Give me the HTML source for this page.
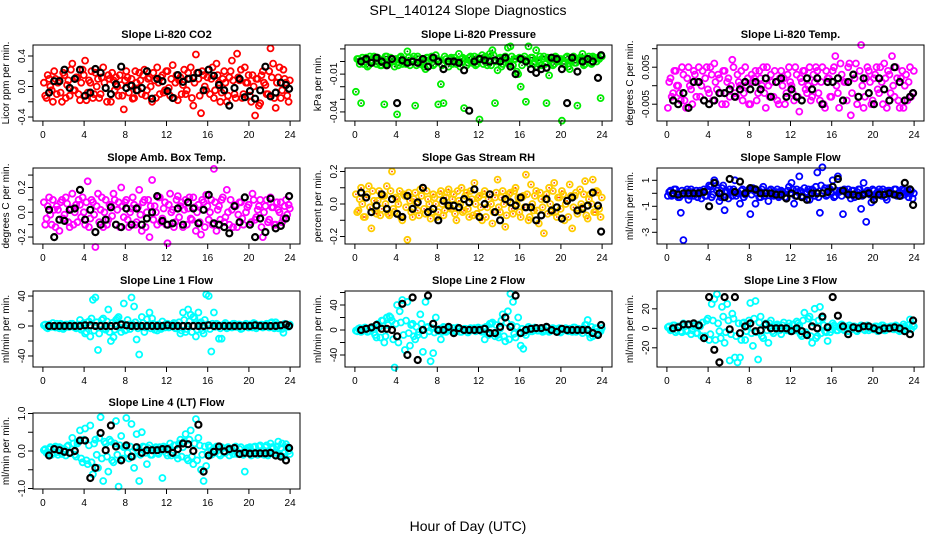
<!DOCTYPE html>
<html><head><meta charset="utf-8">
<style>
html,body{margin:0;padding:0;background:#fff;}
svg{display:block;font-family:"Liberation Sans",sans-serif;}
</style></head>
<body>
<svg id="chart" width="936" height="540" viewBox="0 0 936 540" xmlns="http://www.w3.org/2000/svg">
<rect width="936" height="540" fill="#fff"/>
<text x="468" y="15" text-anchor="middle" font-size="14">SPL_140124  Slope Diagnostics</text>
<text x="468" y="531" text-anchor="middle" font-size="14">Hour of Day (UTC)</text>
</svg>
<script>
const hours=[0.1,0.35,0.6,0.85,1.1,1.35,1.6,1.85,2.1,2.35,2.6,2.85,3.1,3.35,3.6,3.85,4.1,4.35,4.6,4.85,5.1,5.35,5.6,5.85,6.1,6.35,6.6,6.85,7.1,7.35,7.6,7.85,8.1,8.35,8.6,8.85,9.1,9.35,9.6,9.85,10.1,10.35,10.6,10.85,11.1,11.35,11.6,11.85,12.1,12.35,12.6,12.85,13.1,13.35,13.6,13.85,14.1,14.35,14.6,14.85,15.1,15.35,15.6,15.85,16.1,16.35,16.6,16.85,17.1,17.35,17.6,17.85,18.1,18.35,18.6,18.85,19.1,19.35,19.6,19.85,20.1,20.35,20.6,20.85,21.1,21.35,21.6,21.85,22.1,22.35,22.6,22.85,23.1,23.35,23.6,23.85];
const hours2=[0.22,0.47,0.72,0.97,1.22,1.47,1.72,1.97,2.22,2.47,2.72,2.97,3.22,3.47,3.72,3.97,4.22,4.47,4.72,4.97,5.22,5.47,5.72,5.97,6.22,6.47,6.72,6.97,7.22,7.47,7.72,7.97,8.22,8.47,8.72,8.97,9.22,9.47,9.72,9.97,10.22,10.47,10.72,10.97,11.22,11.47,11.72,11.97,12.22,12.47,12.72,12.97,13.22,13.47,13.72,13.97,14.22,14.47,14.72,14.97,15.22,15.47,15.72,15.97,16.22,16.47,16.72,16.97,17.22,17.47,17.72,17.97,18.22,18.47,18.72,18.97,19.22,19.47,19.72,19.97,20.22,20.47,20.72,20.97,21.22,21.47,21.72,21.97,22.22,22.47,22.72,22.97,23.22,23.47,23.72,23.97];
const blackHours=[0.6,1.1,1.6,2.1,2.6,3.1,3.6,4.1,4.6,5.1,5.6,6.1,6.6,7.1,7.6,8.1,8.6,9.1,9.6,10.1,10.6,11.1,11.6,12.1,12.6,13.1,13.6,14.1,14.6,15.1,15.6,16.1,16.6,17.1,17.6,18.1,18.6,19.1,19.6,20.1,20.6,21.1,21.6,22.1,22.6,23.1,23.6,23.9];
const xTicks=[0,4,8,12,16,20,24];

const co2Values=[0.05,-0.15,0.1,-0.05,0.2,-0.1,0.08,-0.2,0.15,0.02,-0.12,0.3,-0.05,0.12,-0.18,0.22,0.34,-0.08,0.05,-0.15,0.18,0.1,-0.1,0.25,-0.02,0.15,-0.2,0.08,0.12,-0.12,0.02,-0.3,0.2,-0.08,0.1,-0.15,0.05,0.18,-0.1,0.22,-0.05,0.12,-0.2,0.08,0.25,-0.1,0.15,-0.05,0.2,-0.12,0.28,0.05,-0.18,0.12,0.02,-0.1,0.18,0.25,-0.25,0.42,0.1,-0.35,0.15,-0.05,0.22,0.1,-0.15,0.3,0.05,-0.08,0.2,-0.2,0.12,0.34,-0.1,0.43,0.08,-0.15,0.25,0.05,-0.12,0.15,-0.38,0.1,-0.22,0.2,0.02,-0.1,0.5,0.3,-0.28,0.12,-0.15,0.22,0.05,-0.2];
const co2Values2=[-0.12,0.15,0.0,-0.2,0.1,0.05,-0.08,0.18,-0.15,0.08,0.22,-0.05,0.12,-0.1,0.05,0.15,-0.18,0.08,0.2,-0.1,0.0,-0.15,0.12,0.05,-0.2,0.1,0.18,-0.05,0.0,0.15,-0.12,0.08,0.12,0.02,-0.16,0.2,-0.05,0.08,0.15,-0.12,0.1,0.0,0.18,-0.15,0.05,0.12,-0.08,0.2,-0.02,0.1,-0.15,0.15,0.08,-0.1,0.22,-0.05,0.1,-0.15,0.05,0.18,-0.12,0.2,0.0,0.12,-0.1,0.25,-0.05,0.15,-0.2,0.1,0.05,-0.12,0.2,0.08,-0.15,0.12,0.22,-0.1,0.05,0.15,-0.2,0.0,0.1,-0.25,0.15,0.05,-0.1,0.2,0.12,-0.15,0.05,0.25,-0.05,0.1,-0.12,0.08];
const co2Black=[-0.08,0.07,0.07,0.22,-0.02,0.1,0.22,-0.12,-0.08,0.23,0.18,-0.02,-0.1,0.03,0.26,-0.02,0.01,-0.05,-0.02,0.2,-0.16,0.1,0.07,-0.06,-0.15,0.15,0.06,0.1,0.11,0.18,-0.05,0.22,0.14,0.02,-0.05,-0.25,-0.02,0.1,-0.14,-0.06,-0.16,-0.05,0.26,-0.13,-0.08,0.05,0.02,-0.03];
const pressValues=[-0.024,0.002,-0.033,-0.002,0.003,-0.003,0.001,0.004,-0.002,0.002,-0.003,-0.034,0.004,-0.001,0.002,-0.004,-0.042,0.003,-0.002,0.001,0.008,-0.003,0.002,-0.035,0.004,-0.002,0.001,-0.006,0.003,0.002,-0.003,0.005,-0.034,-0.018,-0.033,0.002,-0.004,0.003,0.001,-0.002,0.006,0.002,-0.037,-0.003,0.003,-0.001,0.004,-0.002,-0.046,0.005,0.002,-0.003,0.006,0.009,-0.033,-0.007,0.003,-0.002,0.004,0.011,0.012,-0.003,0.002,-0.01,-0.02,0.002,-0.032,0.012,0.003,-0.002,0.009,0.001,-0.003,0.004,-0.033,-0.011,0.002,-0.002,0.003,0.001,-0.047,-0.002,0.004,-0.006,0.002,-0.001,-0.035,0.003,0.006,-0.002,0.002,-0.001,0.004,0.002,0.003,-0.029];
const pressValues2=[0.002,-0.002,0.003,0.0,-0.004,0.004,-0.001,0.002,0.003,-0.003,0.001,0.004,-0.002,0.003,0.0,0.002,-0.003,0.004,0.001,-0.002,0.003,0.0,0.004,-0.003,0.002,0.001,-0.004,0.003,0.0,0.004,-0.002,0.002,0.001,-0.003,0.004,0.0,0.002,-0.002,0.003,0.001,-0.004,0.003,0.002,-0.001,0.004,0.0,-0.003,0.003,0.002,-0.002,0.004,0.001,-0.003,0.005,0.0,0.002,-0.004,0.003,0.001,-0.002,0.004,0.002,-0.008,0.003,-0.003,0.004,0.001,-0.002,0.003,0.0,-0.004,0.004,0.002,-0.002,0.003,0.001,-0.003,0.004,0.0,0.002,-0.002,0.003,-0.004,0.001,0.004,-0.001,0.002,0.003,-0.003,0.001,0.004,-0.002,0.003,0.0,0.002,0.004];
const pressBlack=[0.0,0.002,-0.001,0.003,0.0,-0.003,0.002,-0.033,0.001,-0.001,0.0,-0.001,0.002,-0.004,0.003,0.0,-0.006,0.0,0.0,-0.001,-0.007,-0.039,0.0,0.002,0.001,0.0,0.001,0.0,0.003,-0.004,-0.01,0.002,0.0,-0.006,-0.009,-0.006,-0.005,0.003,0.002,-0.006,-0.033,0.003,-0.008,0.0,0.002,0.0,-0.013,0.005];
const tempValues=[-0.006,0.002,-0.002,0.004,0.0,-0.004,0.003,-0.006,0.005,-0.001,0.004,-0.003,0.005,0.0,-0.004,0.005,-0.002,0.003,0.006,-0.001,0.002,-0.005,0.004,0.001,-0.003,0.007,-0.002,0.003,0.0,-0.004,0.005,0.002,-0.005,0.001,0.004,-0.002,0.002,0.005,-0.006,0.0,0.003,-0.003,0.001,-0.005,0.004,0.002,-0.002,0.005,0.0,-0.004,0.003,-0.007,0.001,0.004,-0.002,0.005,-0.003,0.001,0.004,-0.004,0.005,-0.006,0.002,-0.003,0.004,0.008,-0.002,0.006,-0.004,0.001,0.005,-0.008,0.003,0.006,-0.003,0.011,-0.006,0.002,0.004,-0.005,0.002,0.005,-0.002,0.001,0.006,-0.006,0.003,0.008,-0.003,0.002,-0.006,0.004,0.0,-0.004,0.005,-0.002];
const tempValues2=[0.001,-0.003,0.004,0.0,-0.002,0.005,-0.004,0.002,0.0,-0.005,0.003,0.001,-0.003,0.004,0.002,-0.001,0.005,-0.004,0.001,0.003,-0.002,0.004,-0.005,0.002,0.0,0.005,-0.003,0.001,0.004,-0.002,0.0,-0.005,0.003,0.002,-0.004,0.004,0.0,-0.002,0.005,-0.003,0.001,0.004,-0.004,0.002,0.0,-0.005,0.003,0.001,-0.002,0.005,-0.003,0.002,0.004,-0.001,0.0,-0.004,0.003,0.005,-0.002,0.001,-0.005,0.004,0.002,-0.003,0.005,0.0,-0.006,0.003,0.001,-0.004,0.006,-0.002,0.002,-0.005,0.004,0.0,-0.003,0.005,0.001,-0.004,0.003,-0.001,0.005,-0.005,0.002,0.004,-0.002,0.0,0.005,-0.004,0.002,-0.006,0.003,0.001,-0.003,0.004];
const tempBlack=[-0.004,-0.005,-0.002,-0.006,0.001,0.001,-0.004,-0.005,-0.004,-0.002,-0.002,-0.001,-0.003,-0.001,0.001,-0.001,0.001,-0.001,0.002,-0.003,0.001,0.002,-0.003,-0.001,-0.003,-0.004,0.002,-0.001,0.002,-0.005,0.001,0.001,0.002,-0.004,0.001,0.003,-0.003,0.002,-0.002,-0.005,0.002,-0.001,-0.004,0.005,0.001,-0.004,-0.003,-0.002];
const ambValues=[0.08,-0.05,0.12,-0.1,0.02,0.05,-0.15,0.1,-0.02,0.07,-0.12,0.15,0.0,-0.08,0.06,0.12,-0.1,0.25,-0.05,0.08,-0.28,0.15,0.02,-0.12,0.1,-0.06,0.05,0.15,-0.1,0.08,0.2,-0.04,0.1,-0.12,0.03,0.06,-0.08,0.18,-0.15,0.1,0.0,-0.2,0.26,0.05,-0.1,0.12,-0.05,0.08,-0.25,0.15,0.02,-0.08,0.13,0.05,-0.12,0.1,0.03,-0.05,0.12,-0.15,0.06,-0.18,0.08,0.14,-0.06,0.1,0.35,-0.15,0.05,0.1,-0.08,0.18,-0.1,0.02,0.06,-0.12,0.08,-0.05,0.12,0.04,-0.1,0.15,-0.06,0.02,0.1,-0.2,0.05,-0.08,0.12,0.04,-0.1,0.02,0.08,-0.05,0.1,0.06];
const ambValues2=[-0.1,0.05,-0.02,0.1,-0.12,0.02,0.08,-0.05,0.12,-0.08,0.03,-0.1,0.06,0.1,-0.04,0.0,0.08,-0.12,0.1,-0.02,0.05,-0.08,0.12,0.0,-0.1,0.06,-0.03,0.1,0.02,-0.12,0.05,0.08,-0.06,0.0,0.12,-0.1,0.04,-0.02,0.08,-0.12,0.1,0.05,-0.06,0.0,0.12,-0.08,0.03,-0.1,0.06,0.0,-0.12,0.1,-0.04,0.08,0.02,-0.1,0.12,-0.06,0.04,0.0,-0.08,0.1,-0.12,0.05,0.0,-0.1,0.08,0.02,-0.06,0.12,-0.04,0.0,0.1,-0.12,0.05,-0.02,0.08,-0.1,0.0,0.06,-0.08,0.1,-0.04,0.05,-0.12,0.0,0.1,-0.06,0.04,-0.1,0.08,0.0,-0.08,0.05,-0.02,0.03];
const ambBlack=[0.02,-0.2,-0.06,-0.07,0.02,0.03,0.18,-0.06,0.02,-0.16,-0.1,-0.06,0.04,-0.1,-0.12,0.03,-0.1,0.03,-0.1,-0.05,0.0,0.13,-0.07,-0.1,-0.09,0.03,-0.1,0.08,0.03,-0.09,0.02,0.14,-0.09,-0.1,-0.12,-0.17,0.05,-0.08,0.12,-0.1,-0.2,-0.05,-0.16,0.11,-0.13,-0.11,-0.05,0.13];
const rhValues=[0.06,-0.04,0.1,-0.08,0.04,0.11,-0.15,0.02,-0.06,0.08,-0.03,0.05,0.11,-0.07,0.2,-0.05,0.03,0.08,-0.1,0.05,-0.22,0.02,-0.08,0.07,-0.04,0.09,0.1,-0.06,0.03,-0.09,0.06,0.0,-0.05,0.08,-0.07,0.04,0.09,-0.03,0.06,-0.1,0.02,0.1,-0.04,0.07,-0.08,0.03,0.13,-0.06,0.05,-0.1,0.08,-0.02,0.06,-0.12,0.04,0.15,-0.05,0.08,-0.14,0.02,0.07,-0.06,0.1,0.04,-0.08,0.05,0.18,-0.1,0.12,-0.04,0.08,-0.12,0.03,-0.18,0.06,0.1,-0.05,0.13,-0.08,0.04,0.08,-0.1,0.02,0.12,-0.15,0.05,-0.06,0.09,-0.02,0.14,-0.09,0.06,0.15,-0.05,0.07,-0.08];
const rhValues2=[-0.05,0.03,0.0,-0.08,0.06,-0.02,0.08,-0.04,0.02,-0.07,0.05,0.0,-0.06,0.08,-0.03,0.04,0.0,-0.08,0.06,-0.02,0.07,-0.05,0.03,0.0,-0.07,0.05,-0.03,0.08,0.0,-0.05,0.04,-0.08,0.06,0.0,-0.04,0.07,-0.02,0.03,-0.06,0.08,0.0,-0.05,0.05,-0.03,0.08,-0.07,0.0,0.04,-0.02,0.06,-0.08,0.03,0.0,-0.05,0.07,-0.02,0.04,0.0,-0.07,0.06,-0.03,0.08,0.0,-0.05,0.04,-0.02,0.06,-0.08,0.0,0.05,-0.04,0.07,-0.02,0.03,-0.06,0.0,0.08,-0.05,0.04,-0.03,0.06,0.0,-0.08,0.05,-0.02,0.07,-0.04,0.0,0.06,-0.07,0.03,0.0,-0.05,0.08,-0.03,0.04];
const rhBlack=[0.07,0.04,-0.05,-0.01,0.06,-0.03,0.03,-0.06,-0.08,0.05,-0.03,0.01,0.1,-0.05,-0.03,-0.1,0.02,-0.01,-0.01,-0.02,0.03,0.01,0.09,-0.08,0.0,0.06,-0.05,-0.1,0.03,0.01,-0.01,0.04,-0.02,-0.02,-0.1,-0.07,0.03,-0.04,-0.02,-0.09,0.02,0.04,-0.04,-0.03,-0.01,0.07,-0.01,-0.17];
const sampleValues=[-0.2,0.2,-0.1,0.3,-0.3,-1.5,-3.6,0.1,-0.5,0.3,-0.2,0.2,0.0,-0.4,0.3,-0.2,0.6,-0.3,1.0,0.2,-0.6,0.4,-1.3,0.1,0.3,-0.2,1.0,0.0,-0.8,0.3,-0.1,0.2,-1.6,0.4,-0.8,0.2,-0.3,0.5,0.1,-0.6,0.3,-0.2,0.1,-0.3,0.2,0.0,-0.4,0.5,0.8,-0.8,0.3,1.3,-0.2,0.4,0.1,-0.5,0.3,-0.2,1.6,-1.5,2.0,0.4,-0.1,0.3,1.0,-0.2,1.3,0.2,-1.6,0.1,0.3,-0.4,0.2,-0.1,0.3,-1.2,0.8,-2.2,0.1,-0.7,0.2,0.0,0.3,-0.2,0.1,-0.5,0.2,0.0,0.3,-0.2,0.1,0.3,-0.1,0.2,0.0,-0.4];
const sampleValues2=[0.1,-0.2,0.3,0.0,-0.3,0.2,-0.1,0.3,-0.2,0.1,0.0,-0.3,0.2,0.1,-0.2,0.3,0.5,-0.1,0.8,0.4,-0.3,0.6,0.2,-0.4,0.1,0.3,-0.2,0.0,0.2,-0.3,0.1,0.3,-0.1,0.2,0.0,-0.3,0.3,-0.2,0.1,0.2,-0.1,0.0,0.3,-0.2,0.1,-0.3,0.2,0.0,0.3,-0.2,0.1,0.2,-0.3,0.0,0.3,-0.1,0.2,0.5,-0.3,0.6,0.2,-0.2,0.4,0.0,-0.3,0.2,0.1,-0.2,0.3,0.0,-0.1,0.2,-0.3,0.1,0.3,-0.2,0.0,0.2,-0.1,0.3,-0.2,0.1,0.0,0.3,-0.3,0.2,0.1,-0.1,0.3,0.0,-0.2,0.2,0.1,-0.3,0.2,0.0];
const sampleBlack=[0.0,-0.1,0.0,0.0,0.0,0.0,0.1,-1.0,0.8,0.0,-0.3,1.1,0.1,0.9,0.0,0.4,0.3,0.0,0.0,0.0,-0.1,-0.1,-0.4,0.0,-0.2,-0.3,-0.5,0.0,0.0,0.0,0.1,0.5,1.1,0.2,-0.1,-0.1,-0.2,-0.1,0.0,-0.5,-0.1,-0.1,0.0,-0.1,-0.2,0.8,0.3,-0.9];
const line1Values=[1,-2,2,-1,0,3,-3,1,-2,2,-1,3,-2,1,8,-3,-10,5,-14,35,38,-32,2,10,-5,22,-20,-15,8,12,-8,30,-5,2,38,26,-18,-38,12,-8,9,18,10,-5,-6,-3,6,-2,3,-1,2,-3,1,-10,18,-8,22,15,12,-14,18,5,-10,42,40,-34,18,3,-17,-17,2,-3,1,-2,3,-1,2,-3,1,0,2,-2,3,-1,1,-2,2,-1,4,-2,5,-3,1,-9,2,-1];
const line1Values2=[2,-3,1,4,-2,0,3,-4,2,-1,3,0,-3,2,-5,4,-8,6,10,-6,5,-10,8,-3,6,-8,4,-5,10,-2,3,-6,8,-4,2,5,-3,0,4,-2,1,-3,3,-1,2,-4,0,3,-2,1,4,-3,5,-6,8,-4,6,-8,10,-5,3,-6,8,2,-4,3,-1,2,-3,1,4,-2,0,3,-1,2,-4,1,3,-2,0,4,-3,1,2,-1,3,-2,5,-3,2,0,-4,3,-1,2];
const line1Black=[0,0,0,0,0,0,0,1,1,0,0,0,0,0,2,1,0,0,0,0,0,0,0,1,0,0,0,0,0,0,0,1,0,0,0,0,0,0,0,0,1,0,0,0,0,1,2,0];
const line2Values=[-1,2,-3,1,3,-2,2,-4,-12,5,15,-20,20,22,15,-60,40,30,48,-32,45,-25,10,-15,-8,25,-35,45,5,-50,-37,20,-2,-15,5,-3,2,-1,3,-2,1,-3,2,0,-2,1,3,-1,2,-3,-15,-5,10,12,-10,-8,2,25,-18,30,58,45,-12,20,-25,-30,-8,5,-2,1,3,-1,2,-2,4,-3,1,2,-1,3,-2,1,-1,2,-3,4,-2,1,-5,8,16,-12,-10,3,-5,-2];
const line2Values2=[-2,3,-1,4,-3,2,5,-8,10,-12,15,-10,8,20,-15,10,-20,12,-8,15,-5,8,-10,5,-3,10,-8,4,-2,3,-4,1,2,-3,4,-1,0,3,-2,4,-3,1,2,-4,3,0,-2,4,-1,3,5,-8,10,-5,8,-12,15,-10,12,-15,8,-6,5,-3,2,-4,1,3,-2,4,-1,2,-3,0,4,-2,3,-1,2,-4,1,3,-2,0,4,-3,2,-1,3,8,-6,5,-3,2,-1,3];
const line2Black=[0,2,4,8,2,2,0,-10,42,-40,52,-48,0,55,10,0,0,5,-5,3,0,0,0,0,2,-5,-5,5,20,5,55,-5,0,2,3,3,5,0,-3,2,0,0,0,0,0,-5,-8,8];
const line3Values=[1,-2,3,-4,2,-3,5,-2,3,-6,2,-5,4,-8,-10,8,-12,25,30,35,-3,22,-15,25,-33,15,-30,-35,-30,5,-12,2,26,-18,28,-32,12,-10,5,-15,8,-5,3,2,-6,6,-2,5,-1,-2,7,3,-8,16,-6,12,-15,20,-8,22,10,-3,-13,-4,5,2,-2,3,-1,2,-3,1,2,-2,1,3,-1,2,-2,1,-1,2,-1,3,-2,1,0,2,-1,2,-3,1,2,-1,9,4];
const line3Values2=[2,-1,3,-2,1,-4,2,-3,4,-2,3,-5,2,6,-8,10,-6,8,-12,5,-10,12,-4,8,-6,10,-8,5,-12,6,-3,8,-5,10,-4,6,-8,3,-2,5,-3,1,4,-2,3,-1,2,-3,4,-2,5,-6,8,-4,10,-8,6,-10,8,-5,3,-4,2,-1,3,-2,1,4,-2,0,3,-1,2,-3,1,2,-2,3,0,-1,2,-3,1,3,-2,0,2,-1,3,-2,1,4,-2,3,-1,2];
const line3Black=[0,1,4,4,5,3,-10,32,-22,-35,32,-1,32,-5,2,5,-3,-2,4,0,0,0,0,-3,0,-3,-7,2,0,12,1,32,13,2,-6,1,0,2,2,0,-2,0,0,1,0,-3,-6,8];
const line4Values=[0.02,-0.05,0.05,-0.1,0.08,-0.03,0.1,-0.08,0.05,0.12,-0.06,0.35,-0.1,0.2,0.55,-0.3,0.6,-0.35,0.68,-0.62,0.3,-0.45,0.9,-0.8,0.2,-0.55,0.25,-0.3,0.8,-0.95,0.4,0.1,0.88,-0.2,0.72,-0.45,0.45,-0.8,0.5,0.1,-0.35,0.15,-0.1,0.05,-0.05,0.1,-0.72,0.08,-0.12,0.2,-0.05,0.15,-0.2,0.3,0.1,0.45,-0.25,0.55,-0.35,0.85,0.35,-0.5,-0.8,-0.4,0.15,-0.1,0.05,0.12,-0.08,0.1,-0.05,0.08,-0.12,0.05,0.1,-0.08,0.05,-0.06,-0.55,0.08,0.1,-0.05,0.12,-0.1,0.15,-0.08,0.1,-0.12,0.2,0.1,-0.05,0.25,0.08,-0.15,0.18,0.0];
const line4Values2=[0.05,-0.08,0.1,-0.05,0.12,-0.1,0.08,0.0,-0.12,0.15,-0.05,0.2,-0.15,0.25,-0.2,0.3,-0.25,0.15,-0.3,0.2,-0.1,0.35,-0.2,0.25,-0.15,0.3,-0.25,0.2,-0.1,0.15,-0.2,0.1,-0.05,0.12,-0.15,0.08,0.0,-0.1,0.12,-0.05,0.08,-0.1,0.05,0.1,-0.08,0.05,0.12,-0.05,0.08,-0.12,0.15,-0.1,0.2,-0.15,0.25,-0.2,0.3,-0.15,0.2,-0.25,0.15,-0.1,0.12,-0.05,0.1,-0.08,0.05,0.1,-0.12,0.08,-0.05,0.1,0.0,-0.08,0.12,-0.05,0.1,-0.1,0.05,0.08,-0.12,0.1,-0.05,0.12,0.0,-0.1,0.15,-0.08,0.1,-0.05,0.12,-0.1,0.2,-0.05,0.1,-0.08];
const line4Black=[-0.12,0.05,0.02,-0.02,-0.05,0.0,0.28,0.28,-0.72,-0.45,0.48,0.02,0.68,0.12,-0.25,0.15,-0.15,0.1,-0.05,0.02,0.02,0.02,0.05,0.05,-0.05,0.05,0.2,0.18,0.0,0.7,-0.55,-0.12,-0.02,0.12,-0.01,0.05,0.08,-0.08,-0.05,-0.07,-0.06,-0.06,-0.06,-0.05,-0.12,-0.15,-0.25,0.08];

const co2Ticks=[-0.4,-0.2,0,0.2,0.4], co2TickLabels=["-0.4","","0.0","","0.4"];
const pressTicks=[0.01,0,-0.01,-0.02,-0.03,-0.04], pressTickLabels=["","","-0.01","","","-0.04"];
const tempTicks=[0.01,0.005,0,-0.005], tempTickLabels=["","0.005","","-0.005"];
const ambTicks=[0.3,0.2,0.1,0,-0.1,-0.2], ambTickLabels=["","0.2","","0.0","","-0.2"];
const rhTicks=[0.2,0.1,0,-0.1,-0.2], rhTickLabels=["0.2","","0.0","","-0.2"];
const sampleTicks=[1,0,-1,-2,-3], sampleTickLabels=["1","","-1","","-3"];
const line1Ticks=[40,20,0,-20,-40], line1TickLabels=["40","","0","","-40"];
const line2Ticks=[60,40,20,0,-20,-40], line2TickLabels=["","40","","0","","-40"];
const line3Ticks=[20,0,-20], line3TickLabels=["20","0","-20"];
const line4Ticks=[1,0.5,0,-0.5,-1], line4TickLabels=["1.0","","0.0","","-1.0"];

const NS="http://www.w3.org/2000/svg";
const svg=document.getElementById('chart');
function mk(tag,attrs,parent){const e=document.createElementNS(NS,tag);for(const k in attrs)e.setAttribute(k,attrs[k]);(parent||svg).appendChild(e);return e;}

const panels=[
 {name:'co2',title:'Slope Li-820 CO2',ylab:'Licor ppm per min.',col:0,row:0,ylim:[-0.452,0.544],ticks:co2Ticks,labels:co2TickLabels,vals:co2Values,vals2:co2Values2,blk:co2Black,color:'#ff0000'},
 {name:'pressure',title:'Slope Li-820 Pressure',ylab:'kPa per min.',col:1,row:0,ylim:[-0.0472,0.0131],ticks:pressTicks,labels:pressTickLabels,vals:pressValues,vals2:pressValues2,blk:pressBlack,color:'#00ee00',inner:'#006600'},
 {name:'li820-temp',title:'Slope Li-820 Temp.',ylab:'degrees C per min.',col:2,row:0,ylim:[-0.00954,0.011],ticks:tempTicks,labels:tempTickLabels,vals:tempValues,vals2:tempValues2,blk:tempBlack,color:'#ff00ff'},
 {name:'amb-box-temp',title:'Slope Amb. Box Temp.',ylab:'degrees C per min.',col:0,row:1,ylim:[-0.256,0.357],ticks:ambTicks,labels:ambTickLabels,vals:ambValues,vals2:ambValues2,blk:ambBlack,color:'#ff00ff'},
 {name:'gas-stream-rh',title:'Slope Gas Stream RH',ylab:'percent per min.',col:1,row:1,ylim:[-0.246,0.2215],ticks:rhTicks,labels:rhTickLabels,vals:rhValues,vals2:rhValues2,blk:rhBlack,color:'#ffcc00',inner:'#ff4400'},
 {name:'sample-flow',title:'Slope Sample Flow',ylab:'ml/min per min.',col:2,row:1,ylim:[-3.9,1.946],ticks:sampleTicks,labels:sampleTickLabels,vals:sampleValues,vals2:sampleValues2,blk:sampleBlack,color:'#0000ff'},
 {name:'line1-flow',title:'Slope Line 1 Flow',ylab:'ml/min per min.',col:0,row:2,ylim:[-54.7,46.7],ticks:line1Ticks,labels:line1TickLabels,vals:line1Values,vals2:line1Values2,blk:line1Black,color:'#00ffff'},
 {name:'line2-flow',title:'Slope Line 2 Flow',ylab:'ml/min per min.',col:1,row:2,ylim:[-59.2,62.4],ticks:line2Ticks,labels:line2TickLabels,vals:line2Values,vals2:line2Values2,blk:line2Black,color:'#00ffff'},
 {name:'line3-flow',title:'Slope Line 3 Flow',ylab:'ml/min per min.',col:2,row:2,ylim:[-39.7,38.3],ticks:line3Ticks,labels:line3TickLabels,vals:line3Values,vals2:line3Values2,blk:line3Black,color:'#00ffff'},
 {name:'line4-flow',title:'Slope Line 4 (LT) Flow',ylab:'ml/min per min.',col:0,row:3,ylim:[-1.013,1.013],ticks:line4Ticks,labels:line4TickLabels,vals:line4Values,vals2:line4Values2,blk:line4Black,color:'#00ffff'}
];
const colLeft=[33,345,657], rowTop=[45,168,291,413], W=267, H=76;

panels.forEach(p=>{
  const L=colLeft[p.col], T=rowTop[p.row], R=L+W, B=T+H;
  const g=mk('g',{});
  
  
  const xs=v=>L+9.9+v*(W-19.8)/24;
  const ys=v=>B-(v-p.ylim[0])/(p.ylim[1]-p.ylim[0])*H;
  const t=mk('text',{x:(L+R)/2,y:T-7,'text-anchor':'middle','font-size':'11','font-weight':'bold'},g);
  t.textContent=p.title;
  
  
  const yl=mk('text',{x:0,y:0,'text-anchor':'middle','font-size':'10',transform:`translate(${L-24},${(T+B)/2}) rotate(-90)`},g);
  yl.textContent=p.ylab;
  
  
  const cg=mk('g',{fill:'none',stroke:p.color,'stroke-width':'1.8'},g);
  
  
  function drawSet(hs,vs){
    const n=Math.min(hs.length,vs.length);
    for(let i=0;i<n;i++){
      const c=mk('circle',{cx:xs(hs[i]).toFixed(1),cy:ys(vs[i]).toFixed(1),r:3},cg);
      
      
      if(p.inner){mk('circle',{cx:xs(hs[i]).toFixed(1),cy:ys(vs[i]).toFixed(1),r:0.9,fill:p.inner,stroke:'none'},cg);}
    }
  }
  drawSet(hours2,p.vals2);
  drawSet(hours,p.vals);
  const bg=mk('g',{fill:'none',stroke:'#000','stroke-width':'2.2'},g);
  
  
  const m=Math.min(blackHours.length,p.blk.length);
  for(let i=0;i<m;i++){
    const c=mk('circle',{cx:xs(blackHours[i]).toFixed(1),cy:ys(p.blk[i]).toFixed(1),r:3},bg);
    
    
  }
  const box=mk('rect',{x:L,y:T,width:W,height:H,fill:'none',stroke:'#000','stroke-width':'1'},g);
  
  
  const xa=mk('g',{stroke:'#000','stroke-width':'1'},g);
  
  
  mk('line',{x1:xs(xTicks[0]),x2:xs(xTicks[xTicks.length-1]),y1:B,y2:B},xa);
  xTicks.forEach(v=>{
    mk('line',{x1:xs(v),x2:xs(v),y1:B,y2:B+5},xa);
    const tl=mk('text',{x:xs(v),y:B+17,'text-anchor':'middle','font-size':'10',stroke:'none',fill:'#000'},xa);
    tl.textContent=String(v);
    
    
  });
  const ya=mk('g',{stroke:'#000','stroke-width':'1'},g);
  
  
  const tv=p.ticks.map(ys);
  mk('line',{x1:L,x2:L,y1:Math.min(...tv),y2:Math.max(...tv)},ya);
  p.ticks.forEach((v,i)=>{
    const y=ys(v);
    mk('line',{x1:L-5,x2:L,y1:y,y2:y},ya);
    if(p.labels[i]){
      const tl=mk('text',{x:0,y:0,'text-anchor':'middle','font-size':'10',stroke:'none',fill:'#000',transform:`translate(${L-8},${y}) rotate(-90)`},ya);
      tl.textContent=p.labels[i];
      
      
    }
  });
});
</script>
</body></html>
